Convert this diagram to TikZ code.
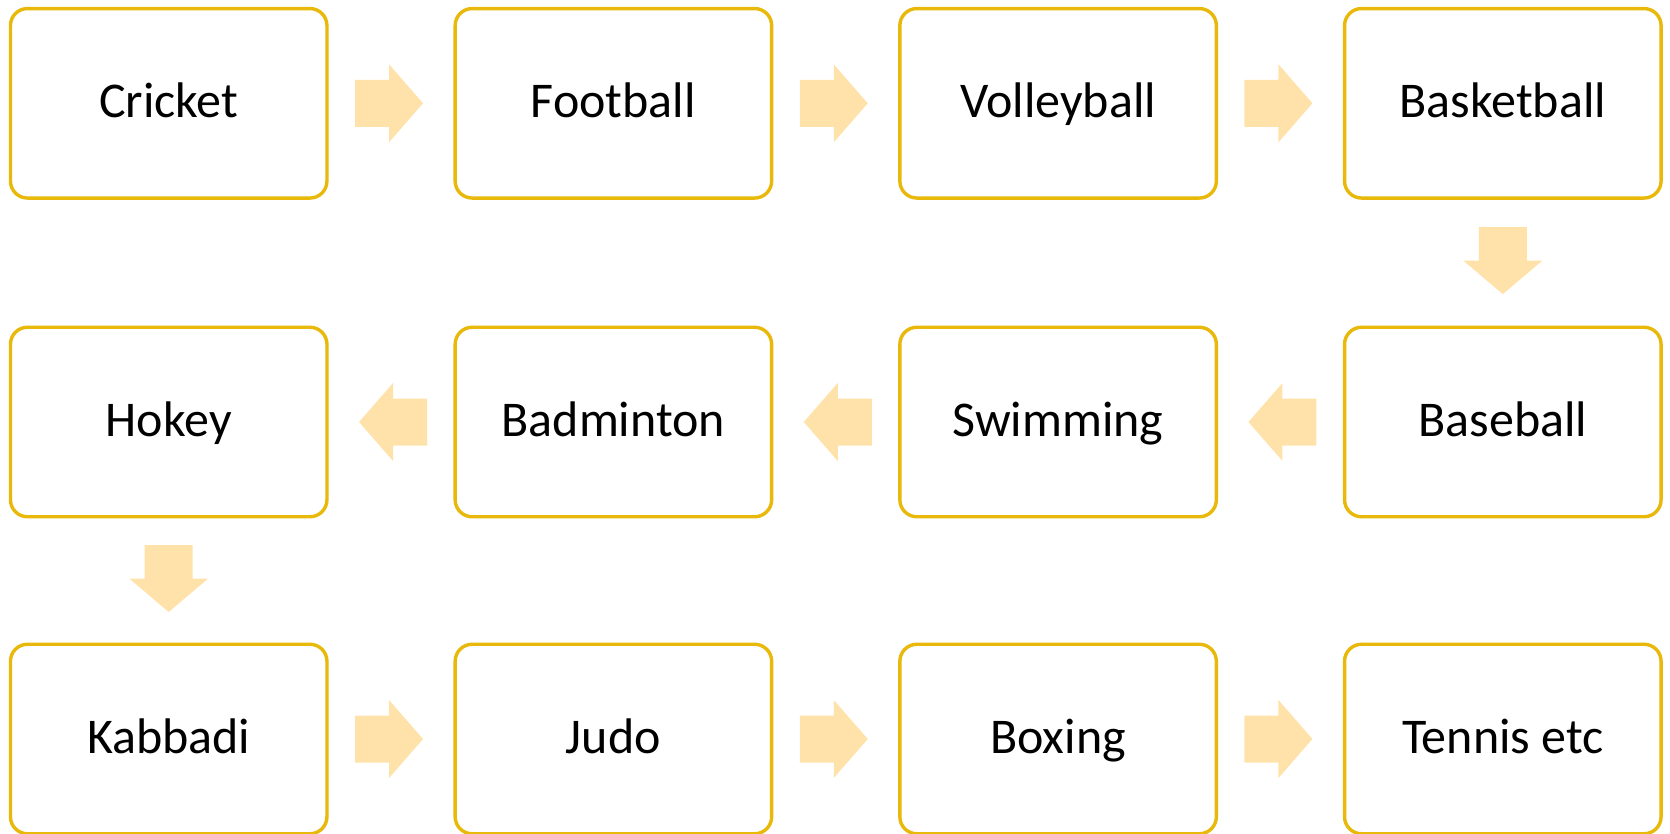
\documentclass[tikz,border=0pt]{standalone}
\usepackage{fontspec}
\setmainfont{Carlito}
\usetikzlibrary{calc}
\definecolor{boxline}{RGB}{232,185,10}
\definecolor{arrowfill}{RGB}{255,226,170}
\tikzset{
  sportbox/.style={draw=boxline, line width=3.4pt, rounded corners=17pt, fill=white,
    minimum width=316.5pt, minimum height=189.5pt, inner sep=0pt,
    text height=28pt, text depth=0pt,
    font=\fontsize{50}{60}\selectfont, text=black},
  blockarrow/.style={fill=arrowfill, draw=none}
}
\begin{document}
\begin{tikzpicture}[x=1pt,y=-1pt]
  \useasboundingbox (0,0) rectangle (1670,833);
  % row 1
  \node[sportbox] (cricket)    at (168.7,103.3) {Cricket};
  \node[sportbox] (football)   at (613.4,103.3) {Football};
  \node[sportbox] (volleyball) at (1058.1,103.3) {Volleyball};
  \node[sportbox] (basketball) at (1502.8,103.3) {Basketball};
  % row 2
  \node[sportbox] (hokey)      at (168.7,422) {Hokey};
  \node[sportbox] (badminton)  at (613.4,422) {Badminton};
  \node[sportbox] (swimming)   at (1058.1,422) {Swimming};
  \node[sportbox] (baseball)   at (1502.8,422) {Baseball};
  % row 3
  \node[sportbox] (kabbadi)    at (168.7,739) {Kabbadi};
  \node[sportbox] (judo)       at (613.4,739) {Judo};
  \node[sportbox] (boxing)     at (1058.1,739) {Boxing};
  \node[sportbox] (tennis)     at (1502.8,739) {Tennis etc};

  % right-pointing block arrows
  \foreach \a/\b in {cricket/football, football/volleyball, volleyball/basketball,
                     kabbadi/judo, judo/boxing, boxing/tennis}{
    \fill[blockarrow, shift={($(\a.east)!0.5!(\b.west)+(-2,0)$)}]
      (-34,-23.5) -- (0,-23.5) -- (0,-39) -- (34,0) -- (0,39) -- (0,23.5) -- (-34,23.5) -- cycle;
  }
  % left-pointing block arrows
  \foreach \a/\b in {baseball/swimming, swimming/badminton, badminton/hokey}{
    \fill[blockarrow, shift={($(\a.west)!0.5!(\b.east)+(2,0)$)}]
      (34,-23.5) -- (0,-23.5) -- (0,-39) -- (-34,0) -- (0,39) -- (0,23.5) -- (34,23.5) -- cycle;
  }
  % downward block arrows
  \foreach \a/\b in {basketball/baseball, hokey/kabbadi}{
    \fill[blockarrow, shift={($(\a.south)!0.5!(\b.north)+(0,-2)$)}]
      (-24,-33.5) -- (24,-33.5) -- (24,0) -- (39.5,0) -- (0,33.5) -- (-39.5,0) -- (-24,0) -- cycle;
  }
\end{tikzpicture}
\end{document}
